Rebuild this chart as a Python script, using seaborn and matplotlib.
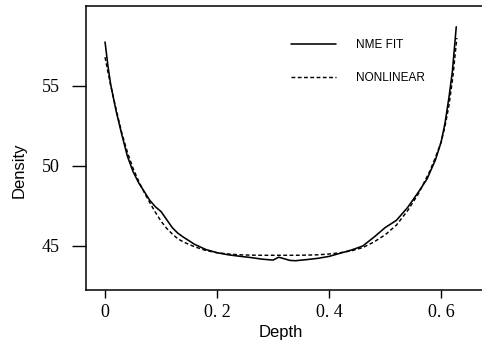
import numpy as np
import pandas as pd
import matplotlib
matplotlib.use("Agg")
import matplotlib.pyplot as plt
import seaborn as sns

# NME FIT (solid)
depth_fit = [0.000, 0.005, 0.010, 0.020, 0.030, 0.040, 0.050, 0.060, 0.070, 0.080,
             0.090, 0.100, 0.110, 0.120, 0.130, 0.140, 0.160, 0.180, 0.200, 0.220,
             0.240, 0.260, 0.280, 0.300, 0.310, 0.320, 0.330, 0.340, 0.360, 0.380,
             0.400, 0.420, 0.440, 0.460, 0.480, 0.500, 0.520, 0.540, 0.560, 0.575,
             0.590, 0.600, 0.607, 0.614, 0.620, 0.627]
nme_fit = [57.75, 56.30, 55.10, 53.40, 51.95, 50.60, 49.65, 48.95, 48.40, 47.85,
           47.45, 47.15, 46.65, 46.15, 45.80, 45.55, 45.10, 44.78, 44.58, 44.45,
           44.36, 44.28, 44.18, 44.12, 44.30, 44.20, 44.10, 44.08, 44.15, 44.23,
           44.35, 44.55, 44.75, 45.00, 45.55, 46.15, 46.60, 47.40, 48.40, 49.20,
           50.40, 51.50, 52.70, 54.30, 55.90, 58.70]

# NONLINEAR (dashed)
depth_nl = [0.000, 0.005, 0.010, 0.020, 0.030, 0.040, 0.050, 0.060, 0.070, 0.080,
            0.090, 0.100, 0.110, 0.120, 0.130, 0.140, 0.160, 0.180, 0.200, 0.220,
            0.240, 0.260, 0.280, 0.300, 0.320, 0.340, 0.360, 0.380, 0.400, 0.420,
            0.440, 0.460, 0.480, 0.500, 0.520, 0.540, 0.560, 0.580, 0.590, 0.600,
            0.607, 0.614, 0.621, 0.628]
nonlinear = [56.80, 55.90, 55.05, 53.50, 52.05, 50.85, 49.85, 49.05, 48.35, 47.70,
             47.10, 46.55, 46.10, 45.75, 45.45, 45.25, 44.95, 44.72, 44.58, 44.50,
             44.45, 44.43, 44.42, 44.42, 44.42, 44.42, 44.43, 44.45, 44.50, 44.58,
             44.70, 44.90, 45.25, 45.70, 46.30, 47.20, 48.30, 49.70, 50.55, 51.50,
             52.50, 53.80, 55.60, 58.00]

x_ticks = [0, 0.2, 0.4, 0.6]
x_ticklabels = ["0", "0. 2", "0. 4", "0. 6"]
y_ticks = [45, 50, 55]
y_ticklabels = ["45", "50", "55"]

sns.set_theme(style="white")
plt.rcParams['font.family'] = ['Liberation Sans', 'DejaVu Sans']

fig = plt.figure(figsize=(4.82, 3.44), dpi=100)
ax = fig.add_axes([86 / 482, 54 / 344, 405 / 482, 284 / 344])

sns.lineplot(x=depth_fit, y=nme_fit, ax=ax, color="black", lw=1.15,
             sort=False, label="NME FIT")
sns.lineplot(x=depth_nl, y=nonlinear, ax=ax, color="black", lw=1.05,
             sort=False, label="NONLINEAR", dashes=False)
ax.lines[1].set_linestyle((0, (2.6, 1.7)))

ax.set_xlim(-0.034, 0.689)
ax.set_ylim(42.25, 60.0)

ax.set_xticks(x_ticks)
ax.set_xticklabels(x_ticklabels, family="Liberation Serif", fontsize=13)
ax.set_yticks(y_ticks)
ax.set_yticklabels(y_ticklabels, family="Liberation Serif", fontsize=13)
ax.tick_params(axis="x", direction="out", length=6, width=1, color="black",
               bottom=True, pad=4, labelcolor="black")
ax.tick_params(axis="y", direction="out", length=10, width=1, color="black",
               left=True, pad=9, labelcolor="black")

for side in ["left", "top", "bottom", "right"]:
    ax.spines[side].set_color("black")
    ax.spines[side].set_linewidth(1.1)

ax.set_xlabel("Depth", fontsize=12, color="black")
ax.set_ylabel("Density", fontsize=12, color="black")
ax.xaxis.set_label_coords(0.481, -0.125)
ax.yaxis.set_label_coords(-0.146, 0.42)

leg = ax.legend(loc="upper left", bbox_to_anchor=(0.506, 0.885), frameon=False,
                fontsize=8.5, handlelength=3.8, handletextpad=1.7,
                labelspacing=1.8, borderpad=0, borderaxespad=0)
for t in leg.get_texts():
    t.set_color("black")

fig.savefig("out.png", dpi=100)
